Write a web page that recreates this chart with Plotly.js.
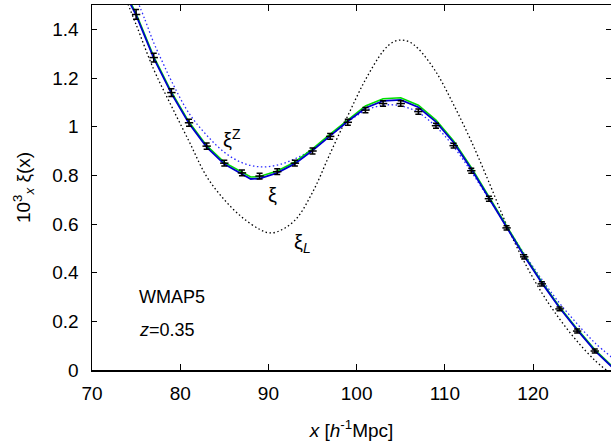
<!DOCTYPE html>
<html>
<head>
<meta charset="utf-8">
<script src="https://cdn.plot.ly/plotly-3.0.1.min.js"></script>
<style>html,body{margin:0;padding:0;background:#fff;}#chart{width:611px;height:447px;}</style>
</head>
<body>
<div id="chart"></div>
<script>
// Measured correlation function points (x in h^-1 Mpc)
var xPts = [75, 77, 79, 81, 83, 85, 87, 89, 91, 93, 95, 97, 99, 101, 103, 105, 107, 109, 111, 113, 115, 117, 119, 121, 123, 125, 127];
var yPts = [1.461, 1.284, 1.14, 1.016, 0.92, 0.85, 0.81, 0.797, 0.815, 0.85, 0.9, 0.96, 1.018, 1.068, 1.095, 1.095, 1.062, 1.004, 0.922, 0.819, 0.704, 0.584, 0.465, 0.354, 0.251, 0.16, 0.078];
var errPts = [0.02, 0.018, 0.016, 0.014, 0.013, 0.012, 0.012, 0.012, 0.012, 0.012, 0.012, 0.012, 0.012, 0.011, 0.011, 0.011, 0.011, 0.01, 0.01, 0.01, 0.01, 0.009, 0.009, 0.009, 0.008, 0.008, 0.008];

// Nonlinear xi (blue solid) and companion model (green solid)
var xXi = [74.0, 75, 77, 79, 81, 83, 85, 87, 88, 89, 91, 93, 95, 97, 99, 101, 103, 105, 107, 109, 111, 113, 115, 117, 119, 121, 123, 125, 127, 128.9];
var xi  = [1.53, 1.458, 1.282, 1.137, 1.013, 0.916, 0.846, 0.805, 0.785, 0.787, 0.81, 0.848, 0.902, 0.962, 1.022, 1.077, 1.106, 1.11, 1.08, 1.02, 0.935, 0.826, 0.707, 0.587, 0.468, 0.358, 0.256, 0.165, 0.08, 0.014];
var xiG = [1.537, 1.465, 1.288, 1.143, 1.019, 0.922, 0.853, 0.813, 0.793, 0.795, 0.818, 0.855, 0.909, 0.969, 1.029, 1.085, 1.115, 1.119, 1.088, 1.027, 0.941, 0.832, 0.712, 0.592, 0.473, 0.362, 0.26, 0.169, 0.084, 0.018];

// Redshift-space xi^Z (blue dotted)
var xZ  = [75.0, 76, 77, 78, 79, 81, 83, 85, 87, 89, 91, 93, 95, 97, 99, 101, 103, 105, 107, 109, 111, 113, 115, 117, 119, 121, 123, 125, 127, 129];
var xiZ = [1.53, 1.44, 1.345, 1.265, 1.188, 1.055, 0.965, 0.895, 0.852, 0.835, 0.842, 0.868, 0.907, 0.963, 1.02, 1.066, 1.088, 1.086, 1.058, 1.0, 0.918, 0.815, 0.703, 0.59, 0.478, 0.372, 0.275, 0.19, 0.112, 0.05];

// Linear xi_L (black dotted)
var xL  = [73.9, 75, 77, 79, 81, 83, 85, 87, 89, 90, 91, 93, 95, 97, 99, 101, 103, 104, 105, 106, 107, 109, 111, 113, 115, 117, 119, 121, 123, 125, 127, 128.3];
var xiL = [1.52, 1.42, 1.235, 1.085, 0.94, 0.795, 0.70, 0.628, 0.578, 0.564, 0.568, 0.615, 0.73, 0.89, 1.045, 1.193, 1.31, 1.345, 1.356, 1.348, 1.32, 1.225, 1.09, 0.94, 0.772, 0.597, 0.445, 0.317, 0.21, 0.118, 0.04, 0.0];

var FONT = 'Liberation Sans, Arial, Helvetica, sans-serif';

var traces = [
  {x: xL, y: xiL, mode: 'lines', line: {color: '#000000', width: 1.3, dash: '1.5px,2.5px', shape: 'spline'}, hoverinfo: 'skip'},
  {x: xZ, y: xiZ, mode: 'lines', line: {color: '#2a2aff', width: 1.3, dash: '1.5px,2.5px', shape: 'spline'}, hoverinfo: 'skip'},
  {x: xXi, y: xiG, mode: 'lines', line: {color: '#00e000', width: 1.6}, hoverinfo: 'skip'},
  {x: xXi, y: xi, mode: 'lines', line: {color: '#0000cc', width: 1.8}, hoverinfo: 'skip'},
  {x: xPts, y: yPts, mode: 'markers',
   marker: {symbol: 'line-ew-open', size: 6, color: '#000', line: {color: '#000', width: 1.5}},
   error_y: {type: 'data', array: errPts, visible: true, color: '#000', thickness: 1.5, width: 3},
   cliponaxis: true, hoverinfo: 'skip'}
];

var layout = {
  width: 611, height: 447,
  margin: {l: 92, r: 0, t: 5, b: 77},
  paper_bgcolor: '#ffffff', plot_bgcolor: '#ffffff',
  showlegend: false,
  font: {family: FONT, size: 19, color: '#000'},
  xaxis: {
    range: [70, 128.84], tick0: 70, dtick: 10, ticks: 'inside', ticklen: 6, tickwidth: 1,
    tickcolor: '#000', showline: true, linecolor: '#000', linewidth: 1.5, mirror: 'ticks',
    showgrid: false, zeroline: false, tickfont: {size: 19}, ticklabelstandoff: 6,
    title: {text: '<i>x</i> [<i>h</i><sup>-1</sup>Mpc]', font: {size: 19}, standoff: 20}
  },
  yaxis: {
    range: [0, 1.5], tick0: 0, dtick: 0.2, ticks: 'inside', ticklen: 5, tickwidth: 1,
    tickcolor: '#000', showline: true, linecolor: '#000', linewidth: 1.5, mirror: 'ticks',
    showgrid: false, zeroline: false, tickfont: {size: 19}, ticklabelstandoff: 8,
    title: {text: '10<sup>3</sup><sub><i>x</i></sub> ξ(x)', font: {size: 19}, standoff: 16}
  },
  annotations: [
    {xref: 'x', yref: 'y', x: 85.9, y: 0.95, text: 'ξ<sup>Z</sup>', showarrow: false, font: {size: 20}},
    {xref: 'x', yref: 'y', x: 90.5, y: 0.72, text: 'ξ', showarrow: false, font: {size: 20}},
    {xref: 'x', yref: 'y', x: 93.9, y: 0.52, text: 'ξ<sub><i>L</i></sub>', showarrow: false, font: {size: 20}},
    {xref: 'x', yref: 'y', x: 75.1, y: 0.30, xanchor: 'left', text: 'WMAP5', showarrow: false, font: {size: 18}},
    {xref: 'x', yref: 'y', x: 75.1, y: 0.165, xanchor: 'left', text: '<i>z</i>=0.35', showarrow: false, font: {size: 18}}
  ]
};

Plotly.newPlot('chart', traces, layout, {staticPlot: true, displayModeBar: false});
</script>
</body>
</html>
